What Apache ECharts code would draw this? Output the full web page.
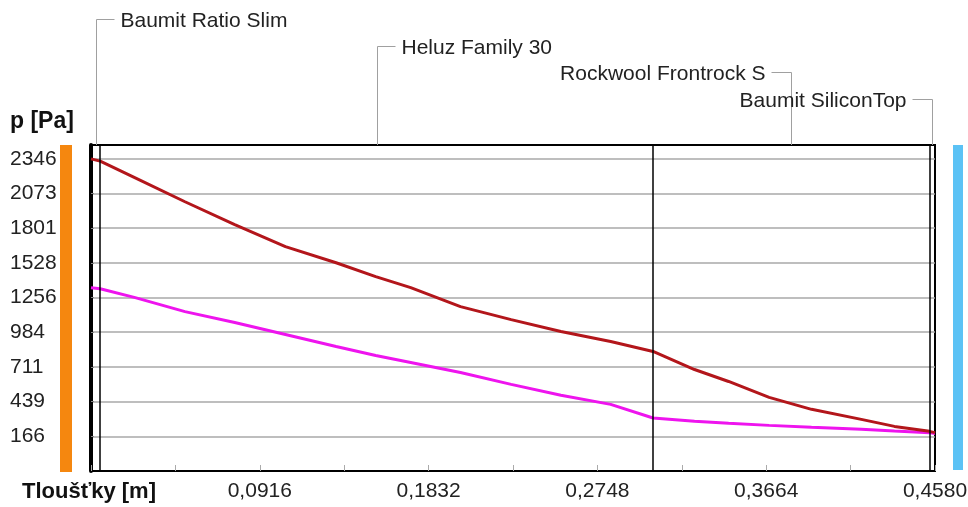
<!DOCTYPE html>
<html>
<head>
<meta charset="utf-8">
<script src="https://cdn.jsdelivr.net/npm/echarts@6/dist/echarts.min.js"></script>
<style>
html,body{margin:0;padding:0;background:#fff;}
#chart{width:968px;height:507px;}
</style>
</head>
<body>
<div id="chart"></div>
<script>
// Position through the wall [m]
const positions = [0, 0.005, 0.024, 0.051, 0.078, 0.1055, 0.133, 0.1545, 0.1735, 0.2005, 0.228, 0.255, 0.282, 0.305, 0.3275, 0.346, 0.368, 0.391, 0.418, 0.436, 0.455, 0.458];
// Saturated vapour pressure [Pa] (dark red)
const pSat = [2346, 2328, 2197, 2009, 1829, 1656, 1530, 1421, 1334, 1185, 1083, 989, 911, 833, 691, 597, 472, 378, 299, 244, 205, 195];
// Partial vapour pressure [Pa] (magenta)
const pPartial = [1334, 1326, 1256, 1146, 1060, 966, 872, 801, 746, 668, 574, 488, 417, 310, 284, 268, 252, 237, 221, 208, 195, 188];
// Y tick labels [Pa]
const yTicks = [166, 439, 711, 984, 1256, 1528, 1801, 2073, 2346];
// X tick labels [m]
const xTicks = [0.0916, 0.1832, 0.2748, 0.3664, 0.4580];
// Layers
const layerNames = ['Baumit Ratio Slim', 'Heluz Family 30', 'Rockwool Frontrock S', 'Baumit SiliconTop'];
const layerBounds = [0, 0.005, 0.305, 0.455, 0.458];

const FONT = "'Liberation Sans', Arial, sans-serif";
const X_MIN = 0, X_MAX = 0.458, Y_MIN = -106.5, Y_MAX = 2455;

const chart = echarts.init(document.getElementById('chart'), null, {renderer: 'canvas'});

const zip = (xs, ys) => xs.map((x, i) => [x, ys[i]]);

const option = {
  animation: false,
  backgroundColor: '#fff',
  grid: {left: 91, top: 145, right: 33, bottom: 36, show: true, borderColor: '#000', borderWidth: 2, backgroundColor: 'transparent', containLabel: false, outerBoundsMode: 'none'},
  xAxis: {
    type: 'value', min: X_MIN, max: X_MAX, interval: 0.0458,
    axisLine: {show: true, onZero: false, lineStyle: {color: '#000', width: 2}},
    axisTick: {show: true, inside: true, length: 6, lineStyle: {color: '#aaa', width: 1}},
    splitLine: {show: false},
    axisLabel: {
      customValues: xTicks,
      margin: 10, fontFamily: FONT, fontSize: 21, color: '#222',
      formatter: v => v.toFixed(4).replace('.', ',')
    }
  },
  yAxis: {
    type: 'value', min: Y_MIN, max: Y_MAX,
    axisLine: {show: true, onZero: false, lineStyle: {color: '#000', width: 4}},
    axisTick: {show: true, customValues: yTicks, inside: true, length: 3, lineStyle: {color: '#888'}},
    splitLine: {show: true, lineStyle: {color: '#a8a8a8', width: 1.5}},
    axisLabel: {
      customValues: yTicks,
      align: 'left', margin: 81, fontFamily: FONT, fontSize: 21, color: '#222',
      formatter: v => String(v)
    }
  },
  series: [
    {
      type: 'line', name: 'p', data: zip(positions, pPartial), z: 3,
      showSymbol: false, symbol: 'none', smooth: false,
      lineStyle: {color: '#ee14ee', width: 3}
    },
    {
      type: 'line', name: 'psat', data: zip(positions, pSat), z: 3,
      showSymbol: false, symbol: 'none', smooth: false,
      lineStyle: {color: '#b3161b', width: 3},
      markLine: {
        silent: true, symbol: 'none', label: {show: false}, animation: false, precision: 4,
        lineStyle: {color: '#000', width: 1.5, type: 'solid'},
        data: layerBounds.slice(1, -1).map(v => ({xAxis: v}))
      }
    }
  ]
};
chart.setOption(option);

// Annotations positioned from the axes
const topY = chart.convertToPixel({gridIndex: 0}, [X_MIN, Y_MAX])[1];
const botY = chart.convertToPixel({gridIndex: 0}, [X_MIN, Y_MIN])[1];
const leftX = chart.convertToPixel({gridIndex: 0}, [X_MIN, Y_MIN])[0];
const rightX = chart.convertToPixel({gridIndex: 0}, [X_MAX, Y_MIN])[0];
const graphics = [];
const rowY = [19, 46, 72, 99];
const lineColor = '#a0a0a0';
for (let i = 0; i < layerNames.length; i++) {
  const mid = (layerBounds[i] + layerBounds[i + 1]) / 2;
  const px = Math.round(chart.convertToPixel({gridIndex: 0}, [mid, Y_MAX])[0]) + 0.5;
  const ry = rowY[i] + 0.5;
  const toRight = mid < (X_MIN + X_MAX) / 2;
  graphics.push({type: 'line', silent: true, shape: {x1: px, y1: ry, x2: px, y2: topY}, style: {stroke: lineColor, lineWidth: 1}});
  if (toRight) {
    graphics.push({type: 'line', silent: true, shape: {x1: px, y1: ry, x2: px + 18, y2: ry}, style: {stroke: lineColor, lineWidth: 1}});
    graphics.push({type: 'text', silent: true, x: px + 24, y: ry + 2, style: {text: layerNames[i], font: '21px ' + FONT, fill: '#222', textAlign: 'left', textVerticalAlign: 'middle'}});
  } else {
    graphics.push({type: 'line', silent: true, shape: {x1: px - 20, y1: ry, x2: px, y2: ry}, style: {stroke: lineColor, lineWidth: 1}});
    graphics.push({type: 'text', silent: true, x: px - 26, y: ry + 2, style: {text: layerNames[i], font: '21px ' + FONT, fill: '#222', textAlign: 'right', textVerticalAlign: 'middle'}});
  }
}
// interior / exterior bars
graphics.push({type: 'rect', silent: true, shape: {x: leftX - 31, y: topY, width: 12, height: botY - topY + 1}, style: {fill: '#f5870f'}});
graphics.push({type: 'rect', silent: true, shape: {x: rightX + 18, y: topY, width: 10, height: botY - topY - 1}, style: {fill: '#5bc2f5'}});
// axis titles
graphics.push({type: 'text', silent: true, x: 10, y: 122, style: {text: 'p [Pa]', font: 'bold 23px ' + FONT, fill: '#111', textAlign: 'left', textVerticalAlign: 'middle'}});
graphics.push({type: 'text', silent: true, x: 22, y: 492, style: {text: 'Tloušťky [m]', font: 'bold 22px ' + FONT, fill: '#111', textAlign: 'left', textVerticalAlign: 'middle'}});
chart.setOption({graphic: graphics});
</script>
</body>
</html>
